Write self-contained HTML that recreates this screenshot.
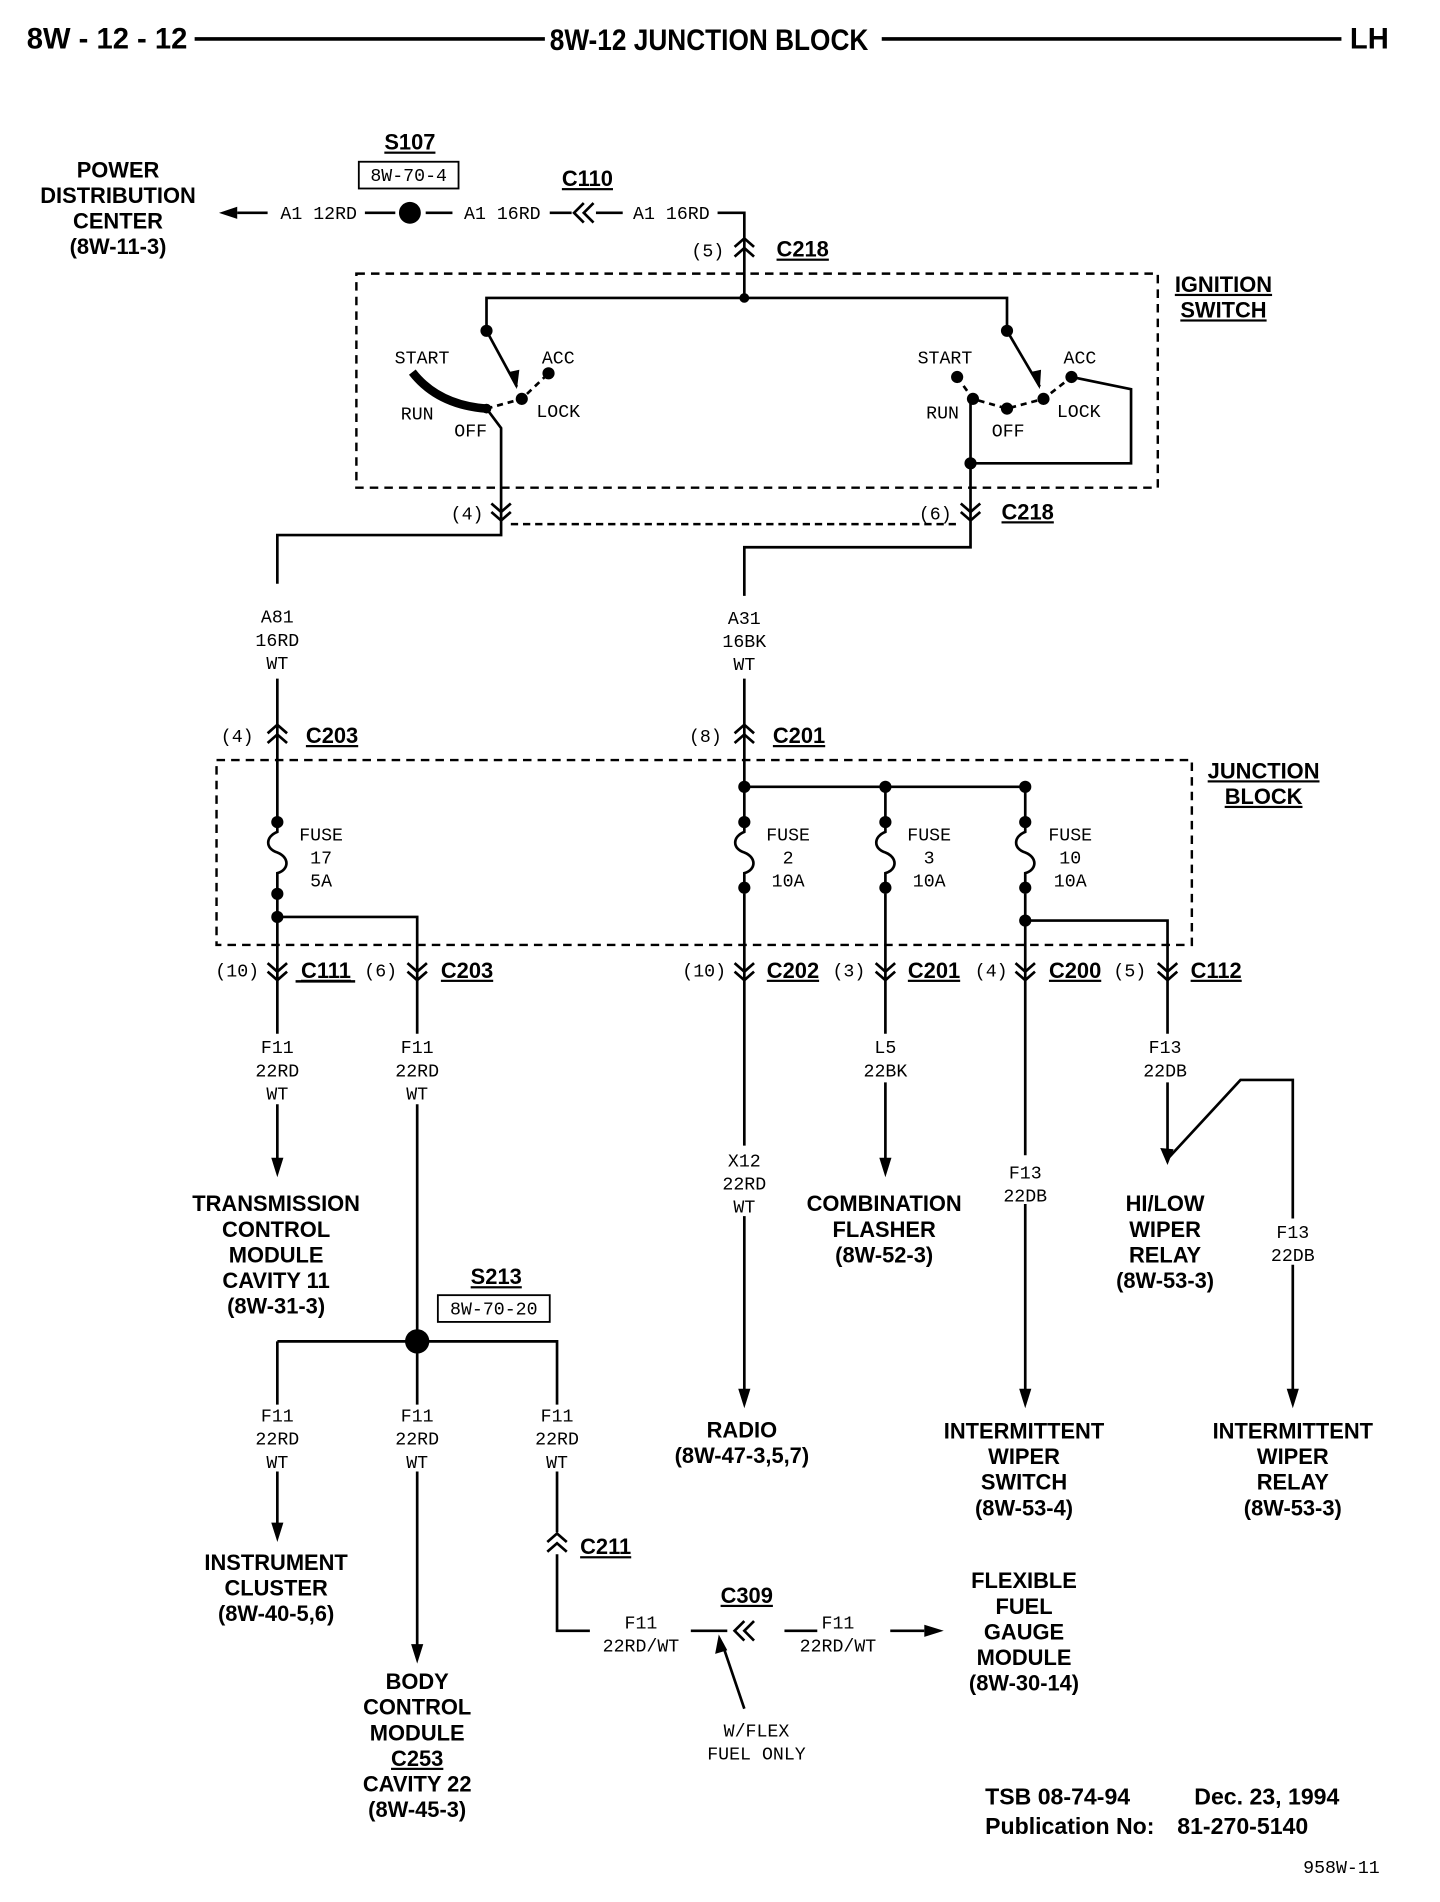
<!DOCTYPE html>
<html><head><meta charset="utf-8"><style>
html,body{margin:0;padding:0;background:#fff;}
svg{display:block;}
.b{font-family:"Liberation Sans",sans-serif;font-weight:bold;font-size:18px;fill:#000;text-anchor:middle;}
.m{font-family:"Liberation Mono",monospace;font-size:15px;fill:#000;text-anchor:middle;}
.h{font-family:"Liberation Sans",sans-serif;font-weight:bold;font-size:24px;fill:#000;}
.f{font-family:"Liberation Sans",sans-serif;font-weight:bold;font-size:19px;fill:#000;}
</style></head><body>
<svg width="1440" height="1902" viewBox="0 0 1184 1564" xmlns="http://www.w3.org/2000/svg">
<g stroke="#000" stroke-width="2.2" fill="none">
<line x1="160" y1="32" x2="448" y2="32" stroke-width="3"/>
<line x1="725" y1="32" x2="1103" y2="32" stroke-width="3"/>
<path d="M195 175 H220 M300 175 H325 M350 175 H372 M452 175 H470 M490 175 H512 M590 175 H612 V245"/>
<path d="M480 167 L472 175 L480 183 M488 167 L480 175 L488 183"/>
<rect x="295" y="133" width="82" height="22" stroke-width="1.5"/>
<path d="M604 203 L612 196 L620 203 M604 211 L612 204 L620 211"/>
<rect x="293" y="225" width="659" height="176" stroke-dasharray="7 5" stroke-width="2"/>
<path d="M400 272 V245 H828 V272"/>
<path d="M400 272 L425 318"/>
<path d="M339 306 Q360 333 400 336" stroke-width="7"/>
<path d="M400 336 L429 328 L451 307" stroke-dasharray="5 4"/>
<path d="M400 336 L412 352 V440 H228 V480"/>
<path d="M828 272 L855 318"/>
<path d="M787 310 L800 328 L828 336 L858 328 L881 310" stroke-dasharray="5 4"/>
<path d="M881 310 L930 320 V381 H798"/>
<path d="M798 328 V450 H612 V490"/>
<path d="M404 414 L412 421 L420 414 M404 421 L412 428 L420 421"/>
<path d="M790 414 L798 421 L806 414 M790 421 L798 428 L806 421"/>
<line x1="420" y1="431" x2="790" y2="431" stroke-dasharray="6 4" stroke-width="2"/>
<path d="M228 558 V676 M612 558 V676"/>
<path d="M220 603 L228 596 L236 603 M220 611 L228 604 L236 611"/>
<path d="M604 603 L612 596 L620 603 M604 611 L612 604 L620 611"/>
<rect x="178" y="625" width="802" height="152" stroke-dasharray="7 5" stroke-width="2"/>
<path d="M612 647 H843 V676 M728 647 V676"/>
<path d="M228 676 v8 c-10 4 -10 14 0 17 c10 4 10 14 0 17 v17"/>
<path d="M612 676 v8 c-10 4 -10 14 0 17 c10 4 10 14 0 17 v17"/>
<path d="M728 676 v8 c-10 4 -10 14 0 17 c10 4 10 14 0 17 v17"/>
<path d="M843 676 v8 c-10 4 -10 14 0 17 c10 4 10 14 0 17 v17"/>
<path d="M228 735 V850 M228 754 H343 V850 M612 735 V942 M728 735 V850 M843 735 V950 M843 757 H960 V850"/>
<path d="M220 792 L228 799 L236 792 M220 799 L228 806 L236 799"/>
<path d="M335 792 L343 799 L351 792 M335 799 L343 806 L351 799"/>
<path d="M604 792 L612 799 L620 792 M604 799 L612 806 L620 799"/>
<path d="M720 792 L728 799 L736 792 M720 799 L728 806 L736 799"/>
<path d="M835 792 L843 799 L851 792 M835 799 L843 806 L851 799"/>
<path d="M952 792 L960 799 L968 792 M952 799 L960 806 L968 799"/>
<line x1="243" y1="807" x2="292" y2="807" stroke-width="2"/>
<path d="M228 908 V960 M343 908 V1103 M612 1000 V1150 M728 890 V960 M843 990 V1150 M960 890 V953 L1020 888 H1063 V1002 M1063 1040 V1150"/>
<path d="M228 1103 H458 V1155 M228 1103 V1155 M343 1103 V1155 M228 1210 V1260 M343 1210 V1360 M458 1210 V1260 M458 1278 V1341 H485"/>
<path d="M450 1268 L458 1261 L466 1268 M450 1276 L458 1269 L466 1276"/>
<rect x="360" y="1065" width="92" height="22" stroke-width="1.5"/>
<path d="M568 1341 H598 M645 1341 H672 M732 1341 H760"/>
<path d="M612 1333 L604 1341 L612 1349 M620 1333 L612 1341 L620 1349"/>
<path d="M612 1405 L594 1352"/>
</g>
<g fill="#000">
<polygon points="180,175 195,170 195,180"/>
<circle cx="337" cy="175" r="9"/>
<circle cx="612" cy="245" r="4"/>
<circle cx="400" cy="272" r="5"/><circle cx="828" cy="272" r="5"/>
<polygon points="425,320 418,306 427,304"/><polygon points="855,320 847,306 856,304"/>
<circle cx="451" cy="307" r="5"/><circle cx="429" cy="328" r="5"/><circle cx="400" cy="336" r="4"/>
<circle cx="787" cy="310" r="5"/><circle cx="800" cy="328" r="5"/><circle cx="828" cy="336" r="5"/><circle cx="858" cy="328" r="5"/><circle cx="881" cy="310" r="5"/>
<circle cx="798" cy="381" r="5"/>
<circle cx="228" cy="676" r="5"/><circle cx="228" cy="735" r="5"/><circle cx="228" cy="754" r="5"/>
<circle cx="612" cy="647" r="5"/><circle cx="728" cy="647" r="5"/><circle cx="843" cy="647" r="5"/>
<circle cx="612" cy="676" r="5"/><circle cx="728" cy="676" r="5"/><circle cx="843" cy="676" r="5"/>
<circle cx="612" cy="730" r="5"/><circle cx="728" cy="730" r="5"/><circle cx="843" cy="730" r="5"/><circle cx="843" cy="757" r="5"/>
<circle cx="343" cy="1103" r="10"/>
<polygon points="228,968 223,952 233,952"/>
<polygon points="728,968 723,952 733,952"/>
<polygon points="612,1158 607,1142 617,1142"/>
<polygon points="843,1158 838,1142 848,1142"/>
<polygon points="960,958 954,944 965,945"/>
<polygon points="1063,1158 1058,1142 1068,1142"/>
<polygon points="228,1268 223,1252 233,1252"/>
<polygon points="343,1368 338,1352 348,1352"/>
<polygon points="776,1341 760,1336 760,1346"/>
<polygon points="591,1344 588,1360 598,1357"/>
</g>
<text class="h" x="22" y="40">8W - 12 - 12</text>
<text class="h" x="452" y="41" textLength="262" lengthAdjust="spacingAndGlyphs">8W-12 JUNCTION BLOCK</text>
<text class="h" x="1110" y="40">LH</text>
<g class="b">
<text x="97" y="146">POWER</text><text x="97" y="167">DISTRIBUTION</text><text x="97" y="188">CENTER</text><text x="97" y="209">(8W-11-3)</text>
<text x="337" y="123" text-decoration="underline">S107</text>
<text x="483" y="153" text-decoration="underline">C110</text>
<text x="660" y="211" text-decoration="underline">C218</text>
<text x="1006" y="240" text-decoration="underline">IGNITION</text><text x="1006" y="261" text-decoration="underline">SWITCH</text>
<text x="845" y="427" text-decoration="underline">C218</text>
<text x="273" y="611" text-decoration="underline">C203</text>
<text x="657" y="611" text-decoration="underline">C201</text>
<text x="1039" y="640" text-decoration="underline">JUNCTION</text><text x="1039" y="661" text-decoration="underline">BLOCK</text>
<text x="268" y="804" text-decoration="underline">C111</text>
<text x="384" y="804" text-decoration="underline">C203</text>
<text x="652" y="804" text-decoration="underline">C202</text>
<text x="768" y="804" text-decoration="underline">C201</text>
<text x="884" y="804" text-decoration="underline">C200</text>
<text x="1000" y="804" text-decoration="underline">C112</text>
<text x="227" y="996">TRANSMISSION</text><text x="227" y="1017">CONTROL</text><text x="227" y="1038">MODULE</text><text x="227" y="1059">CAVITY 11</text><text x="227" y="1080">(8W-31-3)</text>
<text x="727" y="996">COMBINATION</text><text x="727" y="1017">FLASHER</text><text x="727" y="1038">(8W-52-3)</text>
<text x="958" y="996">HI/LOW</text><text x="958" y="1017">WIPER</text><text x="958" y="1038">RELAY</text><text x="958" y="1059">(8W-53-3)</text>
<text x="408" y="1056" text-decoration="underline">S213</text>
<text x="610" y="1182">RADIO</text><text x="610" y="1203">(8W-47-3,5,7)</text>
<text x="842" y="1183">INTERMITTENT</text><text x="842" y="1204">WIPER</text><text x="842" y="1225">SWITCH</text><text x="842" y="1246">(8W-53-4)</text>
<text x="1063" y="1183">INTERMITTENT</text><text x="1063" y="1204">WIPER</text><text x="1063" y="1225">RELAY</text><text x="1063" y="1246">(8W-53-3)</text>
<text x="227" y="1291">INSTRUMENT</text><text x="227" y="1312">CLUSTER</text><text x="227" y="1333">(8W-40-5,6)</text>
<text x="498" y="1278" text-decoration="underline">C211</text>
<text x="614" y="1318" text-decoration="underline">C309</text>
<text x="842" y="1306">FLEXIBLE</text><text x="842" y="1327">FUEL</text><text x="842" y="1348">GAUGE</text><text x="842" y="1369">MODULE</text><text x="842" y="1390">(8W-30-14)</text>
<text x="343" y="1389">BODY</text><text x="343" y="1410">CONTROL</text><text x="343" y="1431">MODULE</text><text x="343" y="1452" text-decoration="underline">C253</text><text x="343" y="1473">CAVITY 22</text><text x="343" y="1494">(8W-45-3)</text>
</g>
<g class="m">
<text x="262" y="180">A1 12RD</text><text x="413" y="180">A1 16RD</text><text x="552" y="180">A1 16RD</text>
<text x="336" y="149">8W-70-4</text>
<text x="582" y="211">(5)</text>
<text x="347" y="299">START</text><text x="459" y="299">ACC</text><text x="343" y="345">RUN</text><text x="387" y="359">OFF</text><text x="459" y="343">LOCK</text>
<text x="777" y="299">START</text><text x="888" y="299">ACC</text><text x="775" y="344">RUN</text><text x="829" y="359">OFF</text><text x="887" y="343">LOCK</text>
<text x="384" y="427">(4)</text><text x="769" y="427">(6)</text>
<text x="228" y="512">A81</text><text x="228" y="531">16RD</text><text x="228" y="550">WT</text>
<text x="612" y="513">A31</text><text x="612" y="532">16BK</text><text x="612" y="551">WT</text>
<text x="195" y="610">(4)</text><text x="580" y="610">(8)</text>
<text x="264" y="691">FUSE</text><text x="264" y="710">17</text><text x="264" y="729">5A</text>
<text x="648" y="691">FUSE</text><text x="648" y="710">2</text><text x="648" y="729">10A</text>
<text x="764" y="691">FUSE</text><text x="764" y="710">3</text><text x="764" y="729">10A</text>
<text x="880" y="691">FUSE</text><text x="880" y="710">10</text><text x="880" y="729">10A</text>
<text x="195" y="803">(10)</text><text x="313" y="803">(6)</text><text x="579" y="803">(10)</text><text x="698" y="803">(3)</text><text x="815" y="803">(4)</text><text x="929" y="803">(5)</text>
<text x="228" y="866">F11</text><text x="228" y="885">22RD</text><text x="228" y="904">WT</text>
<text x="343" y="866">F11</text><text x="343" y="885">22RD</text><text x="343" y="904">WT</text>
<text x="728" y="866">L5</text><text x="728" y="885">22BK</text>
<text x="958" y="866">F13</text><text x="958" y="885">22DB</text>
<text x="612" y="959">X12</text><text x="612" y="978">22RD</text><text x="612" y="997">WT</text>
<text x="843" y="969">F13</text><text x="843" y="988">22DB</text>
<text x="1063" y="1018">F13</text><text x="1063" y="1037">22DB</text>
<text x="406" y="1081">8W-70-20</text>
<text x="228" y="1169">F11</text><text x="228" y="1188">22RD</text><text x="228" y="1207">WT</text>
<text x="343" y="1169">F11</text><text x="343" y="1188">22RD</text><text x="343" y="1207">WT</text>
<text x="458" y="1169">F11</text><text x="458" y="1188">22RD</text><text x="458" y="1207">WT</text>
<text x="527" y="1339">F11</text><text x="527" y="1358">22RD/WT</text>
<text x="689" y="1339">F11</text><text x="689" y="1358">22RD/WT</text>
<text x="622" y="1428">W/FLEX</text><text x="622" y="1447">FUEL ONLY</text>
<text x="1103" y="1540">958W-11</text>
</g>
<text class="f" x="810" y="1484">TSB 08-74-94</text>
<text class="f" x="982" y="1484">Dec. 23, 1994</text>
<text class="f" x="810" y="1508">Publication No:</text>
<text class="f" x="968" y="1508">81-270-5140</text>
</svg>
</body></html>
